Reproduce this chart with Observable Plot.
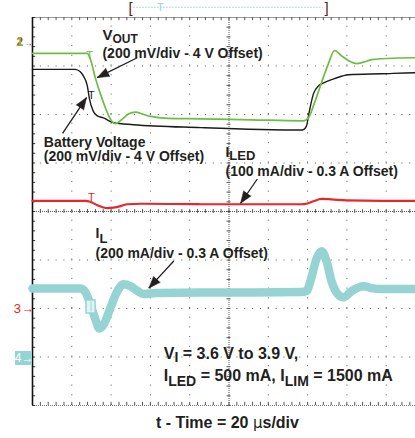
<!DOCTYPE html>
<html><head><meta charset="utf-8">
<script src="https://cdn.jsdelivr.net/npm/d3@7"></script>
<script src="https://cdn.jsdelivr.net/npm/@observablehq/plot@0.6"></script>
<style>body{margin:0;background:#fff}</style>
</head><body><div id="chart"></div>
<script>
// Horizontal: time in µs (20 µs/div, 10 div). Vertical: screen divisions (0 = bottom, 8 = top).
const vout_t = [0, 27.9, 29.4, 32.0, 34.5, 37.1, 39.6, 42.2, 45.8, 48.8, 52.4, 56.0, 60.1, 68.8, 85.7, 111.2, 137.9, 140.4, 143.5, 147.1, 150.6, 153.7, 157.3, 160.9, 165.0, 168.5, 172.6, 177.7, 195.6, 200];
const vout_d = [7.26, 7.26, 7.15, 6.75, 6.43, 6.14, 5.91, 5.81, 5.91, 6.01, 6.05, 6.01, 5.96, 5.92, 5.91, 5.89, 5.87, 5.93, 6.24, 6.66, 7.05, 7.32, 7.21, 7.11, 7.05, 7.08, 7.13, 7.15, 7.17, 7.17];

const vbat_t = [0, 21.7, 24.3, 25.8, 27.9, 28.9, 30.9, 33.0, 36.1, 41.2, 51.4, 85.7, 136.8, 137.9, 139.4, 140.9, 143.0, 145.5, 147.1, 153.7, 160.9, 177.7, 195.6, 200];
const vbat_d = [6.93, 6.93, 6.88, 6.80, 6.59, 6.34, 6.07, 5.97, 5.93, 5.83, 5.79, 5.73, 5.68, 5.69, 5.76, 6.07, 6.43, 6.59, 6.63, 6.74, 6.82, 6.84, 6.86, 6.86];

const iled_t = [0, 26.9, 29.4, 33.0, 38.1, 41.2, 44.8, 48.3, 55.0, 85.7, 136.8, 139.4, 142.9, 147.1, 152.2, 159.8, 177.7, 200];
const iled_d = [4.22, 4.22, 4.20, 4.13, 4.07, 4.08, 4.11, 4.15, 4.16, 4.15, 4.15, 4.16, 4.21, 4.26, 4.25, 4.23, 4.22, 4.22];

const il_t = [0, 24.3, 26.9, 29.4, 32.0, 34.0, 36.6, 39.6, 42.7, 46.3, 49.9, 53.5, 56.5, 62.7, 85.7, 111.2, 136.8, 139.4, 141.9, 144.5, 147.1, 149.6, 152.2, 155.3, 158.3, 162.4, 168.5, 172.6, 177.7, 200];
const il_d = [2.41, 2.41, 2.34, 2.09, 1.78, 1.59, 1.70, 2.01, 2.32, 2.50, 2.46, 2.36, 2.30, 2.32, 2.33, 2.33, 2.34, 2.36, 2.63, 3.02, 3.18, 2.98, 2.56, 2.30, 2.23, 2.36, 2.46, 2.42, 2.40, 2.40];

// Graticule
const majorX = [20, 40, 60, 80, 120, 140, 160, 180];
const majorY = [1, 2, 3, 5, 6, 7];
const minorX = d3.range(0, 200.01, 4);
const minorY = d3.range(0, 8.001, 0.2);

// Annotation texts
const notes = [
  {text: "V_{OUT}", t: 35.6, d: 7.536, size: 15, sub: 12, shift: 2.5},
  {text: "(200 mV/div - 4 V Offset)", t: 35.6, d: 7.169, size: 14},
  {text: "Battery Voltage", t: 5.75, d: 5.33, size: 14},
  {text: "(200 mV/div - 4 V Offset) ", t: 5.75, d: 5.037, size: 14},
  {text: "I_{LED}", t: 98.2, d: 5.124, size: 14, sub: 13, shift: 2.6},
  {text: "(100 mA/div - 0.3 A Offset)", t: 98.2, d: 4.722, size: 14},
  {text: "I_{L}", t: 32.06, d: 3.46, size: 14, sub: 13, shift: 5.5},
  {text: "(200 mA/div - 0.3 A Offset)", t: 32.06, d: 3.05, size: 14},
  {text: "V_{I} = 3.6 V to 3.9 V,", t: 66.8, d: 0.963, size: 16, sub: 14, shift: 3.4},
  {text: "I_{LED} = 500 mA, I_{LIM} = 1500 mA", t: 66.8, d: 0.515, size: 16, sub: 14, shift: 5},
  {text: "t - Time = 20 µs/div", t: 99.2, d: -0.474, size: 16, anchor: "middle"}
];
// Callout arrows: tail (t1,d1) -> tip (t2,d2)
const arrows = [
  {t1: 53.3, d1: 7.17, t2: 32.9, d2: 6.76},
  {t1: 15.3, d1: 5.61, t2: 27.5, d2: 6.35},
  {t1: 114.4, d1: 4.67, t2: 105.9, d2: 4.17},
  {t1: 71.9, d1: 2.98, t2: 59.2, d2: 2.42}
];

const W = 415, H = 438, mL = 32, mR = -10, mT = 17, mB = 33;
const kx = (W - mR - mL) / 200, ky = (H - mB - mT) / 8;
arrows.forEach(a => a.angle = Math.atan2((a.t2 - a.t1) * kx, (a.d2 - a.d1) * ky) * 180 / Math.PI);

const series = (T, D) => T.map((t, i) => ({t, d: D[i]}));
const GREEN = "#6dbd43", BLACK = "#1b1b1b", RED = "#e8262b", CYAN = "#96d4d4", INK = "#231f20";
const FONT = "Liberation Sans, Arial, Helvetica, sans-serif";

const marks = [
  // graticule
  Plot.ruleX(majorX, {y1: 0, y2: 8, stroke: "#555", strokeWidth: 1, strokeDasharray: "1 8.7"}),
  Plot.ruleY(majorY, {x1: 0, x2: 200, stroke: "#555", strokeWidth: 1, strokeDasharray: "1 6.86"}),
  Plot.ruleX([100], {y1: 0, y2: 8, stroke: "#555", strokeWidth: 1, strokeDasharray: "1 1"}),
  Plot.ruleY([4], {x1: 0, x2: 200, stroke: "#555", strokeWidth: 1, strokeDasharray: "1 1"}),
  Plot.ruleY(minorY, {x1: 99, x2: 101, stroke: "#555", strokeWidth: 1}),
  Plot.ruleX(minorX, {y1: 3.96, y2: 4.04, stroke: "#555", strokeWidth: 1}),
  Plot.ruleY([8], {x1: 0, x2: 200, stroke: "#9a9a9a", strokeWidth: 1}),
  Plot.ruleY([0], {x1: 0, x2: 200, stroke: "#777", strokeWidth: 1, strokeDasharray: "1 1"}),
  Plot.ruleX(minorX, {y1: 7.935, y2: 8, stroke: "#555", strokeWidth: 1}),
  Plot.ruleX(minorX, {y1: 0, y2: 0.065, stroke: "#555", strokeWidth: 1}),
  Plot.ruleY(minorY, {x1: 0, x2: 1.6, stroke: "#333", strokeWidth: 1}),
  Plot.ruleX([0], {y1: 0, y2: 8, stroke: "#111", strokeWidth: 1.6}),

  // traces
  Plot.line(series(il_t, il_d), {x: "t", y: "d", stroke: CYAN, strokeWidth: 8.5, curve: "monotone-x"}),
  Plot.line(series(iled_t, iled_d), {x: "t", y: "d", stroke: RED, strokeWidth: 2.2, curve: "monotone-x"}),
  Plot.line(series(vbat_t, vbat_d), {x: "t", y: "d", stroke: BLACK, strokeWidth: 1.4, curve: "monotone-x"}),
  Plot.line(series(vout_t, vout_d), {x: "t", y: "d", stroke: GREEN, strokeWidth: 1.7, curve: "monotone-x"}),

  // trigger cursors
  Plot.text([{t: 29.0, d: 7.30}], {x: "t", y: "d", text: () => "T", fill: GREEN, fontSize: 11, lineAnchor: "top", fontFamily: FONT}),
  Plot.text([{t: 29.9, d: 6.49}], {x: "t", y: "d", text: () => "T", fill: BLACK, fontSize: 11, lineAnchor: "top", fontFamily: FONT}),
  Plot.text([{t: 30.0, d: 4.38}], {x: "t", y: "d", text: () => "T", fill: RED, fontSize: 11, lineAnchor: "top", fontFamily: FONT}),
  Plot.rect([{t1: 27.5, t2: 32.1, d1: 1.897, d2: 2.165}], {x1: "t1", x2: "t2", y1: "d1", y2: "d2", fill: "#e4f4f4", stroke: CYAN, strokeWidth: 1.5}),
  Plot.ruleX([29.8], {y1: 1.93, y2: 2.13, stroke: CYAN, strokeWidth: 1}),

  // record bar at the top
  Plot.ruleY([8.21], {x1: 51.5, x2: 148, stroke: CYAN, strokeWidth: 1, strokeDasharray: "1.5 1.5"}),
  Plot.text([{t: 49.9, d: 8.19, s: "["}, {t: 149.6, d: 8.19, s: "]"}], {x: "t", y: "d", text: "s", fill: "#5a1c1c", fontSize: 15, fontFamily: FONT}),
  Plot.text([{t: 65.1, d: 8.30}], {x: "t", y: "d", text: () => "T", fill: CYAN, fontSize: 11, lineAnchor: "top", fontFamily: FONT}),

  // channel reference markers
  Plot.text([{t: -6.4, d: 7.485}], {x: "t", y: "d", text: () => "2", fill: RED, fontSize: 12, fontWeight: "bold", fontFamily: FONT}),
  Plot.text([{t: -6.4, d: 7.485}], {x: "t", y: "d", text: () => "1", fill: GREEN, fontSize: 12, fontWeight: "bold", fontFamily: FONT}),
  Plot.text([{t: -2.2, d: 7.485}], {x: "t", y: "d", text: () => "→", fill: RED, fontSize: 10, fontFamily: FONT}),
  Plot.text([{t: -4.4, d: 2.0}], {x: "t", y: "d", text: () => "3→", fill: RED, fontSize: 13, fontFamily: FONT}),
  Plot.rect([{t1: -8.65, t2: 0, d1: 0.825, d2: 1.113}], {x1: "t1", x2: "t2", y1: "d1", y2: "d2", fill: CYAN}),
  Plot.text([{t: -4.3, d: 0.97}], {x: "t", y: "d", text: () => "4→", fill: "white", fontSize: 12, fontFamily: FONT}),

  // callout arrows
  Plot.link(arrows, {x1: "t1", y1: "d1", x2: "t2", y2: "d2", stroke: INK, strokeWidth: 1.3}),
  Plot.vector(arrows, {x: "t2", y: "d2", rotate: "angle", length: 12, r: 4.5, shape: "spike", anchor: "end", stroke: INK, fill: INK, strokeWidth: 0.5}),

  // annotation texts
  Plot.text(notes, {
    x: "t", y: "d", text: "text", fontSize: "size", fontWeight: "bold", fill: INK,
    textAnchor: "start", lineAnchor: "bottom", fontFamily: FONT,
    filter: n => !n.anchor
  }),
  Plot.text(notes, {
    x: "t", y: "d", text: "text", fontSize: "size", fontWeight: "bold", fill: INK,
    textAnchor: "middle", lineAnchor: "bottom", fontFamily: FONT,
    filter: n => n.anchor === "middle"
  })
];

const svg = Plot.plot({
  width: W, height: H,
  marginLeft: mL, marginRight: mR, marginTop: mT, marginBottom: mB,
  x: {domain: [0, 200], axis: null},
  y: {domain: [0, 8], axis: null},
  style: {fontFamily: FONT, background: "white", overflow: "hidden"},
  marks
});

// subscripts and the µ glyph as tspans
const NS = "http://www.w3.org/2000/svg";
for (const el of svg.querySelectorAll("text")) {
  const s = el.textContent;
  if (!/_\{|µ/.test(s)) continue;
  const n = notes.find(n => n.text === s) || {sub: 13, shift: 3};
  el.textContent = "";
  let lowered = false;
  for (const p of s.split(/(_\{[^}]*\}|µ)/).filter(Boolean)) {
    const ts = document.createElementNS(NS, "tspan");
    if (p.startsWith("_{")) {
      ts.textContent = p.slice(2, -1);
      ts.setAttribute("font-size", n.sub);
      ts.setAttribute("dy", n.shift);
      lowered = true;
    } else {
      ts.textContent = p;
      if (lowered) { ts.setAttribute("dy", -n.shift); lowered = false; }
      if (p === "µ") { ts.setAttribute("font-weight", "normal"); ts.setAttribute("font-family", "DejaVu Sans, sans-serif"); ts.setAttribute("font-size", 15); }
    }
    el.appendChild(ts);
  }
}
document.getElementById("chart").appendChild(svg);
</script></body></html>
